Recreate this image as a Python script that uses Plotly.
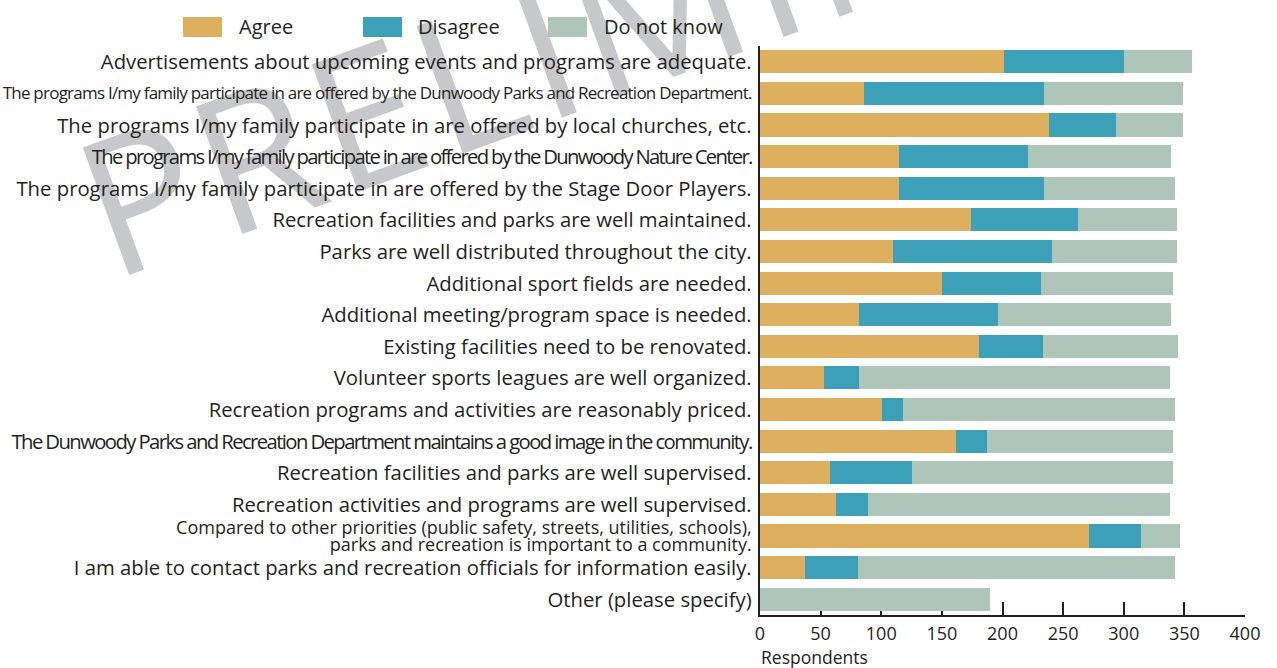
import plotly.graph_objects as go

categories = [
    "Advertisements about upcoming events and programs are adequate.",
    "The programs I/my family participate in are offered by the Dunwoody Parks and Recreation Department.",
    "The programs I/my family participate in are offered by local churches, etc.",
    "The programs I/my family participate in are offered by the Dunwoody Nature Center.",
    "The programs I/my family participate in are offered by the Stage Door Players.",
    "Recreation facilities and parks are well maintained.",
    "Parks are well distributed throughout the city.",
    "Additional sport fields are needed.",
    "Additional meeting/program space is needed.",
    "Existing facilities need to be renovated.",
    "Volunteer sports leagues are well organized.",
    "Recreation programs and activities are reasonably priced.",
    "The Dunwoody Parks and Recreation Department maintains a good image in the community.",
    "Recreation facilities and parks are well supervised.",
    "Recreation activities and programs are well supervised.",
    "Compared to other priorities (public safety, streets, utilities, schools), parks and recreation is important to a community.",
    "I am able to contact parks and recreation officials for information easily.",
    "Other (please specify)",
]

agree = [201, 86, 238, 115, 115, 174, 110, 150, 82, 181, 53, 101, 162, 58, 63, 271, 37, 0]
disagree = [99, 148, 56, 106, 119, 88, 131, 82, 114, 52, 29, 17, 25, 67, 26, 43, 44, 0]
dont_know = [56, 115, 55, 118, 108, 82, 103, 109, 143, 112, 256, 224, 154, 216, 249, 32, 261, 190]

series_names = ["Agree", "Disagree", "Do not know"]
colors = ["#DDAF5F", "#3DA0B9", "#AEC5B9"]

x_ticks = [0, 50, 100, 150, 200, 250, 300, 350, 400]

FONT = "Open Sans"
TXT = "#231F20"
BASE = 13  # axis tick font size (sets the line spacing of wrapped labels)


def styled(text, size, spacing=0.0):
    shift = 0.35 * (size - BASE)
    st = "font-size:%.1fpx;baseline-shift:-%.1fpx" % (size, shift)
    if spacing:
        st += ";letter-spacing:%.2fpx" % spacing
    return '<span style="%s">%s</span>' % (st, text)


tick_text = []
for c in categories:
    if "Parks and Recreation Department." in c:
        t = styled(c, 17, -0.77)
    elif "Nature Center" in c:
        t = styled(c, 20.3, -1.7)
    elif "good image" in c:
        t = styled(c, 20.3, -1.6)
    elif c.startswith("Compared"):
        a, b = c.split("), ")
        t = styled(a + "),", 18) + "<br>" + styled(b, 18)
    else:
        t = styled(c, 20.3)
    tick_text.append(t)

fig = go.Figure()
for name, vals, col in zip(series_names, [agree, disagree, dont_know], colors):
    fig.add_trace(go.Bar(
        y=categories, x=vals, name=name, orientation="h",
        marker=dict(color=col, line=dict(width=0)),
        showlegend=False,
    ))

W, H = 1277, 668
L, R, T, B = 760, 32, 46, 53
pw = W - L - R
ph = H - T - B


def px2x(px):
    return (px - L) / pw


def py2y(py):
    return (H - B - py) / ph


shapes = []
annotations = []
# legend drawn as swatches + labels
leg = [(183, 222, 237), (363, 402, 416), (548, 587, 602)]
for (sx0, sx1, tx), name, col in zip(leg, series_names, colors):
    shapes.append(dict(type="rect", xref="paper", yref="paper",
                       x0=px2x(sx0), x1=px2x(sx1), y0=py2y(37), y1=py2y(17),
                       fillcolor=col, line=dict(width=0)))
    annotations.append(dict(text=name, xref="paper", yref="paper",
                            x=px2x(tx), y=py2y(27), xanchor="left", yanchor="middle",
                            showarrow=False, font=dict(family=FONT, size=20, color=TXT)))

# watermark drawn beneath everything
cx, cy = 686, 8
shapes.append(dict(type="rect", xref="paper", yref="paper", layer="below",
                   x0=px2x(cx - 700), x1=px2x(cx + 700), y0=py2y(cy + 100), y1=py2y(cy - 100),
                   line=dict(width=0), fillcolor="rgba(0,0,0,0)",
                   label=dict(text='<span style="letter-spacing:6px">PRELIMINARY</span>',
                              textangle=-20, textposition="middle center",
                              font=dict(family=FONT, size=190, color="#C7C8CA"))))

annotations.append(dict(text="Respondents", xref="paper", yref="paper",
                        x=0, y=py2y(657), xanchor="left", yanchor="middle", xshift=-1,
                        showarrow=False, font=dict(family=FONT, size=17.5, color=TXT)))

fig.update_layout(
    width=W, height=H,
    margin=dict(l=L, r=R, t=T, b=B, pad=0, autoexpand=False),
    barmode="stack",
    bargap=0.27,
    paper_bgcolor="white",
    plot_bgcolor="rgba(0,0,0,0)",
    font=dict(family=FONT, color=TXT),
    shapes=shapes,
    annotations=annotations,
    xaxis=dict(range=[0, 400], tickvals=x_ticks, ticktext=[str(v) for v in x_ticks],
               showgrid=False, zeroline=False, showline=True, linecolor=TXT, linewidth=1.5,
               ticks="inside", ticklen=13, tickwidth=1.5, tickcolor=TXT,
               tickfont=dict(family=FONT, size=18, color=TXT), layer="below traces",
               ticklabelstandoff=2, automargin=False),
    yaxis=dict(categoryorder="array", categoryarray=categories, range=[17.5, -0.5],
               tickvals=categories, ticktext=tick_text,
               showgrid=False, zeroline=False, showline=True, linecolor=TXT, linewidth=1.5,
               ticks="", tickfont=dict(family=FONT, size=BASE, color=TXT),
               ticklabelstandoff=4, automargin=False),
)

fig.write_html("out.html", config={"displayModeBar": False},
               post_script="document.body.style.margin='0';")
